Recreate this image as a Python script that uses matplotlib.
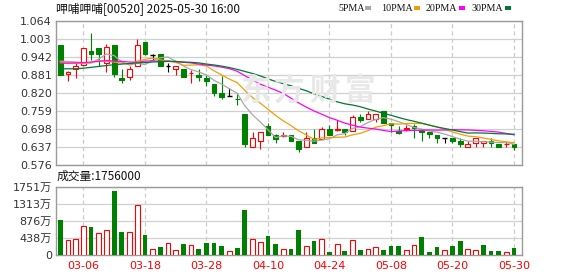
import numpy as np
import pandas as pd
import matplotlib
matplotlib.use("Agg")
import matplotlib.pyplot as plt
from matplotlib.patches import Rectangle

# daily k-line, 2025-03-03 .. 2025-05-30 (60 trading days)
opens = [0.983, 0.883, 0.902, 0.915, 0.962, 0.972, 0.923, 0.983, 0.871, 0.873,
         0.913, 0.993, 0.950, 0.952, 0.912, 0.901, 0.900, 0.887, 0.882, 0.872,
         0.850, 0.821, 0.810, 0.800, 0.748, 0.638, 0.658, 0.708, 0.678, 0.673,
         0.677, 0.658, 0.638, 0.667, 0.665, 0.699, 0.696, 0.697, 0.691, 0.739,
         0.731, 0.733, 0.760, 0.717, 0.691, 0.699, 0.708, 0.693, 0.688, 0.678,
         0.667, 0.667, 0.656, 0.638, 0.649, 0.649, 0.656, 0.647, 0.646, 0.647]
highs = [0.983, 0.893, 0.921, 0.973, 1.023, 0.972, 0.985, 0.983, 0.901, 0.911,
         1.003, 0.993, 0.952, 0.953, 0.923, 0.912, 0.900, 0.898, 0.901, 0.882,
         0.851, 0.878, 0.837, 0.819, 0.748, 0.687, 0.687, 0.719, 0.681, 0.687,
         0.677, 0.658, 0.687, 0.698, 0.704, 0.711, 0.728, 0.698, 0.747, 0.748,
         0.760, 0.748, 0.760, 0.717, 0.708, 0.711, 0.715, 0.693, 0.688, 0.678,
         0.667, 0.667, 0.667, 0.656, 0.667, 0.656, 0.667, 0.647, 0.656, 0.647]
lows = [0.881, 0.862, 0.872, 0.910, 0.932, 0.913, 0.892, 0.873, 0.853, 0.864,
        0.912, 0.948, 0.931, 0.913, 0.892, 0.881, 0.873, 0.853, 0.862, 0.843,
        0.811, 0.801, 0.810, 0.779, 0.638, 0.638, 0.629, 0.678, 0.649, 0.670,
        0.658, 0.619, 0.638, 0.650, 0.665, 0.679, 0.691, 0.678, 0.691, 0.723,
        0.731, 0.723, 0.719, 0.687, 0.680, 0.691, 0.669, 0.658, 0.669, 0.649,
        0.649, 0.649, 0.638, 0.638, 0.638, 0.638, 0.638, 0.638, 0.638, 0.627]
closes = [0.881, 0.891, 0.910, 0.971, 0.953, 0.952, 0.975, 0.883, 0.863, 0.900,
          0.983, 0.952, 0.950, 0.913, 0.912, 0.911, 0.873, 0.888, 0.873, 0.861,
          0.819, 0.808, 0.810, 0.798, 0.647, 0.668, 0.687, 0.678, 0.664, 0.678,
          0.658, 0.629, 0.668, 0.650, 0.697, 0.679, 0.697, 0.688, 0.738, 0.729,
          0.748, 0.748, 0.719, 0.713, 0.686, 0.700, 0.700, 0.689, 0.680, 0.667,
          0.667, 0.658, 0.647, 0.646, 0.667, 0.656, 0.652, 0.638, 0.647, 0.638]
# volume in 万 shares, bar colour as drawn (r = up / hollow, g = down)
volume = [897, 384, 410, 743, 717, 564, 632, 1640, 589, 589,
          1281, 512, 145, 205, 299, 128, 282, 256, 154, 307,
          307, 231, 94, 179, 1153, 401, 333, 487, 282, 145,
          154, 641, 231, 359, 410, 85, 282, 111, 384, 128,
          154, 196, 128, 231, 231, 120, 248, 461, 77, 205,
          128, 231, 359, 145, 128, 256, 102, 102, 77, 175.6]
vol_dir = ["g", "r", "r", "r", "g", "r", "r", "g", "g", "r",
           "r", "g", "r", "g", "r", "r", "g", "r", "g", "g",
           "g", "g", "r", "g", "g", "r", "r", "g", "g", "r",
           "g", "g", "r", "g", "r", "g", "r", "g", "r", "g",
           "r", "r", "g", "g", "g", "r", "r", "g", "g", "g",
           "r", "g", "g", "r", "r", "g", "g", "g", "r", "g"]

# MA values before enough closes are available
ma5_head = [0.928, 0.927, 0.925, 0.922]
ma10_head = [0.924, 0.922, 0.921, 0.921, 0.923, 0.930, 0.928, 0.925, 0.921]
ma20_head = [0.921, 0.921, 0.922, 0.923, 0.925, 0.927, 0.930, 0.928, 0.927, 0.925,
             0.924, 0.928, 0.929, 0.927, 0.928, 0.926, 0.924, 0.922, 0.918]
ma30_head = [0.902, 0.902, 0.902, 0.904, 0.907, 0.910, 0.913, 0.916, 0.918, 0.920,
             0.922, 0.923, 0.925, 0.926, 0.927, 0.927, 0.925, 0.924, 0.922, 0.918,
             0.915, 0.911, 0.906, 0.900, 0.893, 0.886, 0.878, 0.868, 0.859]

date_pos = [3, 11, 19, 27, 35, 43, 51, 59]
date_labels = ["03-06", "03-18", "03-28", "04-10", "04-24", "05-08", "05-20", "05-30"]
price_ticks = [0.576, 0.637, 0.698, 0.759, 0.820, 0.881, 0.942, 1.003, 1.064]
vol_ticks = [0, 438, 876, 1313, 1751]
vol_tick_labels = ["0", "438万", "876万", "1313万", "1751万"]

RED = "#ff0000"
GREEN = "#008000"
ma_colors = {5: "#a8a8a8", 10: "#f0a000", 20: "#ff00ff", 30: "#007a33"}

plt.rcParams["font.family"] = ["DejaVu Sans", "Noto Sans CJK SC"]
plt.rcParams["lines.scale_dashes"] = False
CJK = ["Noto Sans CJK SC", "DejaVu Sans"]

W, H = 578, 276
fig = plt.figure(figsize=(W / 100, H / 100), dpi=100)


def box(l, t, r, b):
    return [l / W, 1 - b / H, (r - l) / W, (b - t) / H]


ax = fig.add_axes(box(56, 21, 522, 165))
axv = fig.add_axes(box(56, 187, 522, 255), sharex=ax)

n = len(closes)
x = np.arange(n)
w = 0.62

# watermark
for cx, ch in zip([255, 289, 324, 360], "东方财富"):
    fig.text(cx / W, 1 - 91 / H, ch, fontsize=22, color="#e8e8e8", family=CJK,
             ha="center", va="center", fontweight="bold", zorder=0)

for i in range(n):
    o, h, l, c = opens[i], highs[i], lows[i], closes[i]
    if c > o:
        col = RED
    elif c < o:
        col = GREEN
    else:
        col = "black"
    ax.vlines(i, l, h, color=col, lw=0.8, zorder=2)
    if c == o:
        ax.hlines(c, i - w / 2, i + w / 2, color=col, lw=1.0, zorder=3)
    else:
        ax.add_patch(Rectangle((i - w / 2, min(o, c)), w, max(abs(c - o), 0.0015),
                               facecolor="white" if c > o else col,
                               edgecolor=col, lw=0.8, zorder=3))

close_s = pd.Series(closes)
for period, head in [(5, ma5_head), (10, ma10_head), (20, ma20_head), (30, ma30_head)]:
    ma = close_s.rolling(period).mean().to_numpy()
    ma[:period - 1] = head
    ax.plot(x, ma, color=ma_colors[period], lw=0.9, zorder=4)

ax.set_ylim(0.576, 1.064)
ax.set_xlim(-0.56, 60.04)
ax.set_yticks(price_ticks)
ax.set_yticklabels(["%.3f" % v for v in price_ticks])
ax.set_xticks(date_pos)
ax.tick_params(axis="x", labelbottom=False, length=0)

# volume bars
for i in range(n):
    if vol_dir[i] == "r":
        axv.bar(i, volume[i], width=w, facecolor="white", edgecolor=RED, lw=0.8, zorder=3)
    else:
        axv.bar(i, volume[i], width=w, color=GREEN, lw=0, zorder=3)
axv.set_ylim(0, 1751)
axv.set_yticks(vol_ticks)
axv.set_yticklabels(vol_tick_labels)
axv.set_xticks(date_pos)
axv.set_xticklabels(date_labels)
axv.tick_params(axis="x", length=0, pad=4, labelcolor=RED, labelsize=8)

for a in (ax, axv):
    a.tick_params(axis="y", length=0, pad=3, labelsize=8, labelcolor="#333333")
    a.yaxis.grid(True, color="#d0d0d0", lw=0.9, ls="-")
    a.xaxis.grid(True, color="#cccccc", lw=0.9, ls=(0, (3, 2.2)))
    a.set_axisbelow(True)
    for s in a.spines.values():
        s.set_color("#9a9a9a")
        s.set_linewidth(1.0)

fig.text(56 / W, 1 - 8.5 / H, "呷哺呷哺[00520] 2025-05-30 16:00", fontsize=8.5,
         family=CJK, va="center", ha="left", color="#111111")
fig.text(57 / W, 1 - 176.5 / H, "成交量:1756000", fontsize=8.5,
         family=CJK, va="center", ha="left", color="#111111")

# MA legend
legend_items = [("5PMA", 338, 365, 5), ("10PMA", 381, 414, 10),
                ("20PMA", 426, 459, 20), ("30PMA", 472, 505, 30)]
for label, tx, sx, period in legend_items:
    fig.text(tx / W, 1 - 8.5 / H, label, fontsize=7.2, family=["Liberation Serif"],
             va="center", ha="left", color="#111111")
    fig.patches.append(Rectangle((sx / W, 1 - 9.5 / H), 5.5 / W, 3 / H,
                                 transform=fig.transFigure, facecolor=ma_colors[period],
                                 edgecolor="none"))

fig.savefig("out.png", dpi=100)
